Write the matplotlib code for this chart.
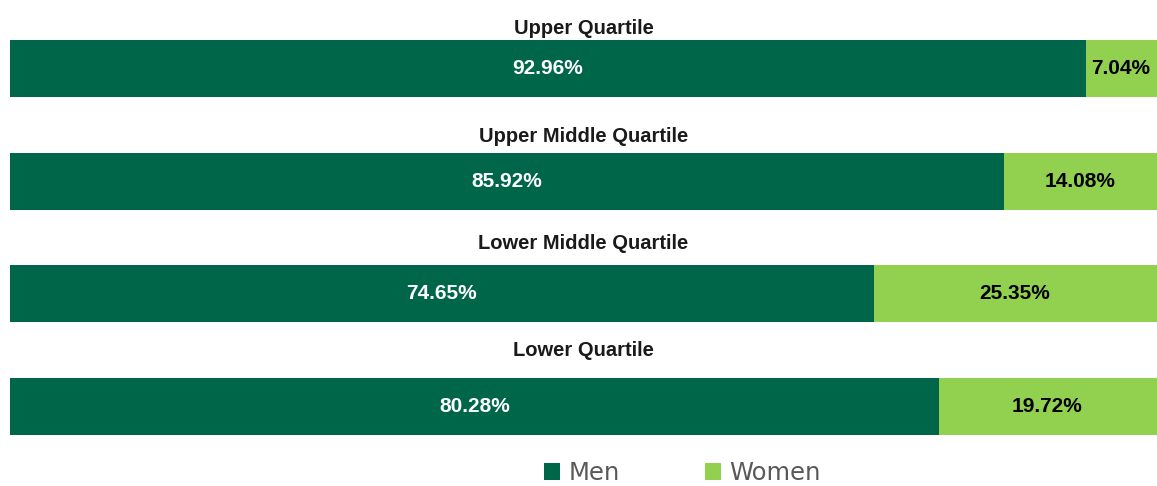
import matplotlib.pyplot as plt
from matplotlib.patches import Patch

# Data
quartiles = ["Upper Quartile", "Upper Middle Quartile", "Lower Middle Quartile", "Lower Quartile"]
men = [92.96, 85.92, 74.65, 80.28]
women = [7.04, 14.08, 25.35, 19.72]

MEN_COLOR = "#00664A"
WOMEN_COLOR = "#92D050"

W, H = 1157, 486
fig = plt.figure(figsize=(W / 100, H / 100), dpi=100)

# axes runs from x=10px; the 100% end sits just past the right edge (cropped)
ax = fig.add_axes([10 / W, 0, (W - 10) / W, 1])
ax.set_xlim(0, 100 * (W - 10) / W)
ax.set_ylim(3.706, -0.608)
ax.axis("off")

pos = list(range(len(quartiles)))
ax.barh(pos, men, height=0.506, color=MEN_COLOR, edgecolor="none")
ax.barh(pos, women, left=men, height=0.506, color=WOMEN_COLOR, edgecolor="none")

for i in pos:
    ax.text(men[i] / 2, i, f"{men[i]:.2f}%", color="white", fontsize=15,
            fontweight="bold", ha="center", va="center", family="Liberation Sans")
    ax.text(men[i] + women[i] / 2 - 0.5, i, f"{women[i]:.2f}%", color="black", fontsize=15,
            fontweight="bold", ha="center", va="center", family="Liberation Sans")
    # category title above each bar
    fig.text(0.5 + 10 / W / 2, 1 - (29 + 107 * i) / H, quartiles[i], fontsize=14.5,
             fontweight="bold", ha="center", va="center", color="#1a1a1a",
             family="Liberation Sans")

handles = [Patch(facecolor=MEN_COLOR, edgecolor="none", label="Men"),
           Patch(facecolor=WOMEN_COLOR, edgecolor="none", label="Women")]
fig.legend(handles=handles, loc="center", bbox_to_anchor=(682.5 / W, 13 / H), ncol=2,
           frameon=False, fontsize=17.5, handlelength=0.65, handleheight=0.65,
           handletextpad=0.35, columnspacing=3.5, borderpad=0, labelcolor="#595959")

fig.savefig("out.png", dpi=100)
